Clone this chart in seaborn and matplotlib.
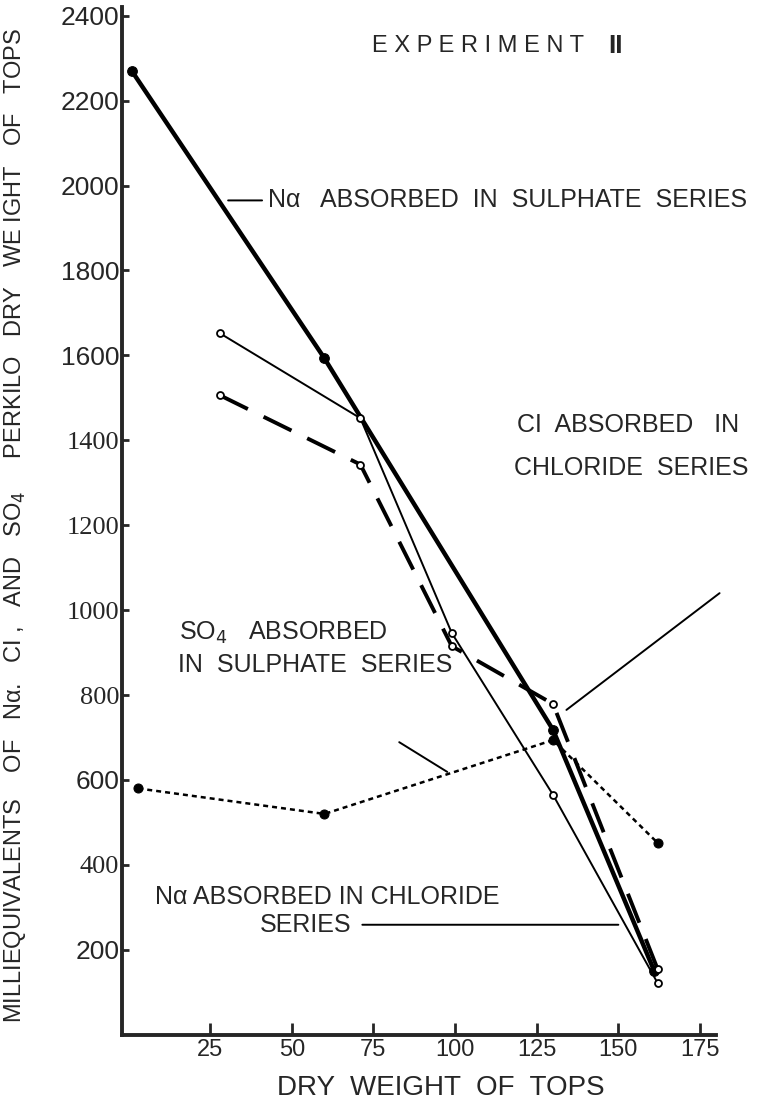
import pandas as pd
import matplotlib.pyplot as plt
import seaborn as sns

# Na absorbed in sulphate series (heavy line, solid dots)
na_sulph_x = [1, 60, 130, 161]
na_sulph_y = [2270, 1593, 718, 150]

# Na absorbed in chloride series (thin line, open circles)
na_chlor_x = [28, 71, 99, 130, 162]
na_chlor_y = [1652, 1452, 946, 565, 122]

# Cl absorbed in chloride series (long dashes, open circles)
cl_chlor_x = [28, 71, 99, 130, 162]
cl_chlor_y = [1506, 1343, 915, 779, 155]

# SO4 absorbed in sulphate series (short dashes, solid dots)
so4_sulph_x = [3, 60, 130, 162]
so4_sulph_y = [580, 520, 694, 452]

x_ticks = [25, 50, 75, 100, 125, 150, 175]
y_ticks = [200, 400, 600, 800, 1000, 1200, 1400, 1600, 1800, 2000, 2200, 2400]
serif_ticks = ["400", "800", "1000", "1200", "1400"]

sns.set_style("ticks")
plt.rcParams["font.family"] = ["Liberation Sans", "DejaVu Sans"]

fig = plt.figure(figsize=(7.82, 11.12), dpi=100)
ax = fig.add_axes([0.156, 0.0695, 0.76, 0.924])

na_s = pd.DataFrame({"x": na_sulph_x, "y": na_sulph_y})
na_c = pd.DataFrame({"x": na_chlor_x, "y": na_chlor_y})
cl_c = pd.DataFrame({"x": cl_chlor_x, "y": cl_chlor_y})
so4 = pd.DataFrame({"x": so4_sulph_x, "y": so4_sulph_y})

sns.lineplot(data=na_s, x="x", y="y", ax=ax, color="black", lw=3.2,
             marker="o", markersize=7, markeredgecolor="black")
sns.lineplot(data=na_c, x="x", y="y", ax=ax, color="black", lw=1.4,
             marker="o", markersize=5, markerfacecolor="white",
             markeredgecolor="black", markeredgewidth=1.3)
sns.lineplot(data=cl_c, x="x", y="y", ax=ax, color="black", lw=2.8,
             marker="o", markersize=5, markerfacecolor="white",
             markeredgecolor="black", markeredgewidth=1.3)
ax.lines[-1].set_dashes([8, 4.5])
sns.lineplot(data=so4, x="x", y="y", ax=ax, color="black", lw=1.8,
             marker="o", markersize=6.5, markeredgecolor="black")
ax.lines[-1].set_dashes([2, 1.6])

ax.set_xlim(-2, 180)
ax.set_ylim(0, 2420)
ax.set_xticks(x_ticks)
ax.set_yticks(y_ticks)
ax.set_xticklabels([str(t) for t in x_ticks], fontsize=17)
ax.set_yticklabels([str(t) for t in y_ticks], fontsize=19)
for lab in ax.get_yticklabels():
    if lab.get_text() in serif_ticks:
        lab.set_family("Liberation Serif")
ax.tick_params(axis="x", direction="in", length=9, width=2, pad=3)
ax.tick_params(axis="y", direction="in", length=5, width=2, pad=2)
sns.despine(ax=ax)
ax.spines["left"].set_linewidth(2.8)
ax.spines["bottom"].set_linewidth(2.8)
ax.set_xlabel("")
ax.set_ylabel("")

fig.text(0.564, 0.022, "DRY  WEIGHT  OF  TOPS", fontsize=20, ha="center", va="center")
fig.text(0.019, 0.527,
         "MILLIEQUIVALENTS    OF   Nα.   CI ,   AND   SO$_4$     PERKILO   DRY   WE IGHT   OF   TOPS",
         fontsize=17, rotation=90, ha="center", va="center")

ax.text(74.7, 2329, "E X P E R I M E N T", fontsize=17, va="center")
ax.text(147, 2329, "II", fontsize=19, fontweight="bold", va="center")

line_kw = dict(arrowstyle="-", lw=1.4, color="black", shrinkA=0, shrinkB=0)

ax.annotate("", xy=(40.9, 1965), xytext=(30.5, 1965), arrowprops=line_kw)
ax.text(42.7, 1965, "Nα   ABSORBED  IN  SULPHATE  SERIES", fontsize=18, va="center")

ax.text(119, 1435, "CI  ABSORBED   IN", fontsize=18, va="center")
ax.text(118, 1334, "CHLORIDE  SERIES", fontsize=18, va="center")
ax.annotate("", xy=(134.1, 765), xytext=(181, 1040), arrowprops=line_kw, annotation_clip=False)

ax.text(15.5, 946, "SO$_4$   ABSORBED", fontsize=18, va="center")
ax.text(15, 871, "IN  SULPHATE  SERIES", fontsize=18, va="center")
ax.annotate("", xy=(97.6, 619), xytext=(82.9, 689), arrowprops=line_kw)

ax.text(8.2, 325, "Nα ABSORBED IN CHLORIDE", fontsize=18, va="center")
ax.text(40.2, 259, "SERIES", fontsize=18, va="center")
ax.annotate("", xy=(150, 259), xytext=(71.6, 259), arrowprops=line_kw)

plt.savefig("out.png", dpi=100)
